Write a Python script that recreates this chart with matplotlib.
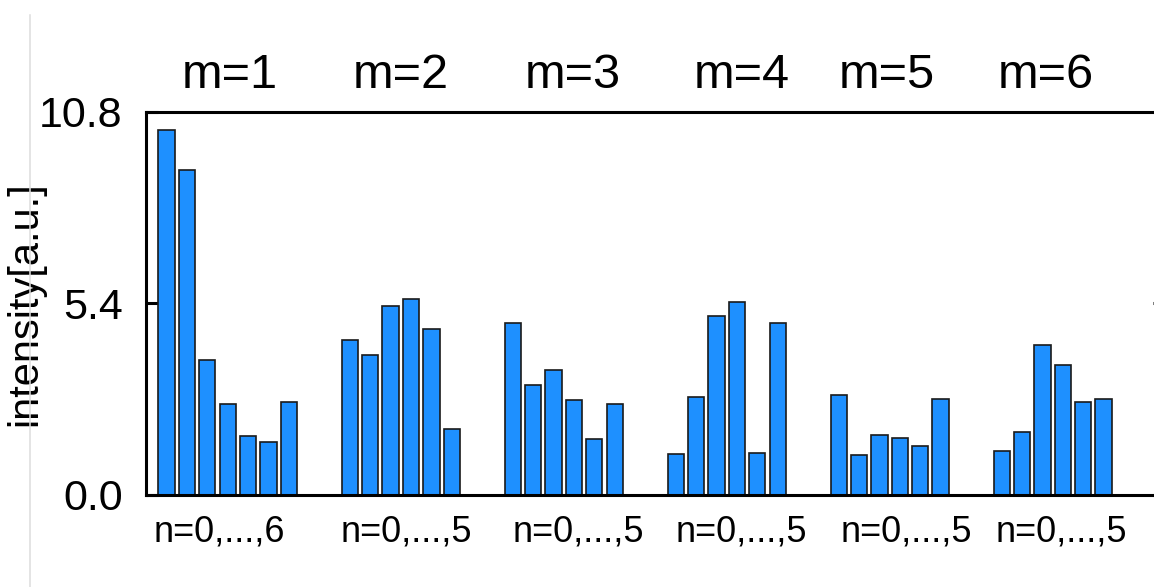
import numpy as np
import matplotlib
matplotlib.use("Agg")
import matplotlib.pyplot as plt
from matplotlib.lines import Line2D

plt.rcParams['font.family'] = ['Liberation Sans', 'DejaVu Sans']

# Intensity per mode m, for n = 0 .. N
group_labels = ["m=1", "m=2", "m=3", "m=4", "m=5", "m=6"]
range_labels = ["n=0,...,6", "n=0,...,5", "n=0,...,5", "n=0,...,5", "n=0,...,5", "n=0,...,5"]
m1 = [10.29, 9.17, 3.81, 2.56, 1.67, 1.50, 2.61]
m2 = [4.36, 3.94, 5.33, 5.54, 4.67, 1.85]
m3 = [4.86, 3.09, 3.52, 2.67, 1.57, 2.58]
m4 = [1.16, 2.77, 5.05, 5.43, 1.19, 4.86]
m5 = [2.82, 1.13, 1.69, 1.62, 1.39, 2.72]
m6 = [1.25, 1.77, 4.23, 3.67, 2.63, 2.72]
y_ticks = [0.0, 5.4, 10.8]

groups = [m1, m2, m3, m4, m5, m6]

# label placement (x in bar-slot units)
top_label_x = [3.1, 11.5, 19.95, 28.25, 35.35, 43.15]
bottom_label_x = [2.6, 11.75, 20.2, 28.2, 36.3, 43.95]

fig = plt.figure(figsize=(11.54, 5.87), dpi=100)
ax = fig.add_axes([0.12669, 0.15673, 0.88258, 0.65247])

gap = 2
start = 0
for vals in groups:
    x = start + np.arange(len(vals))
    ax.bar(x, vals, width=0.8, color='#1E90FF', edgecolor='#1a1a1a',
           linewidth=1.2, zorder=3)
    start += len(vals) + gap

ax.set_xlim(-1, 49)
ax.set_ylim(0, 10.8)
ax.set_xticks([])
ax.set_yticks(y_ticks)
ax.set_yticklabels([f"{v:.1f}" for v in y_ticks], fontsize=31)
ax.tick_params(axis='y', direction='in', length=8.6, width=2.2,
               left=True, right=True, pad=17)
for sp in ax.spines.values():
    sp.set_linewidth(2.2)
    sp.set_zorder(4)

ax.set_ylabel("intensity[a.u.]", fontsize=30)
ax.yaxis.set_label_coords(-0.0994, 0.5)

trans = ax.get_xaxis_transform()
for xl, txt in zip(top_label_x, group_labels):
    ax.text(xl, 1.0627, txt, transform=trans, ha='center', va='baseline',
            fontsize=35, clip_on=False)
for xl, txt in zip(bottom_label_x, range_labels):
    ax.text(xl, -0.122, txt, transform=trans, ha='center', va='baseline',
            fontsize=26, clip_on=False)

# thin separator line on the left
fig.add_artist(Line2D([30 / 1154, 30 / 1154], [0, 1 - 15 / 587],
                      transform=fig.transFigure, color='#dddddd', linewidth=1.1))

fig.savefig("out.png", dpi=100)
